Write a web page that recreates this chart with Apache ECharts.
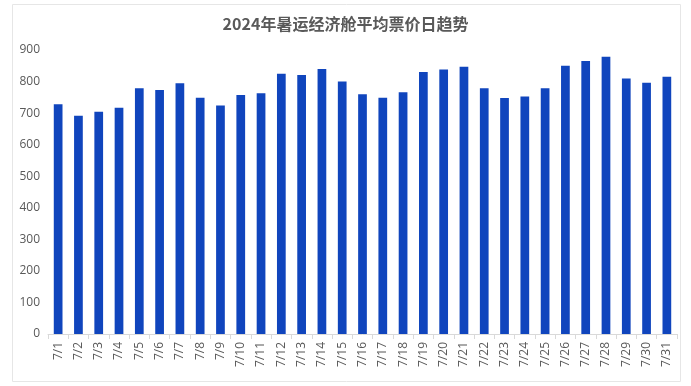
<!DOCTYPE html>
<html><head><meta charset="utf-8">
<script src="https://cdn.jsdelivr.net/npm/echarts@6/dist/echarts.min.js"></script>
<style>html,body{margin:0;padding:0;background:#fff}#c{width:691px;height:386px}</style>
</head><body><div id="c"></div>
<script>
const categories = ['7/1','7/2','7/3','7/4','7/5','7/6','7/7','7/8','7/9','7/10','7/11','7/12','7/13','7/14','7/15','7/16','7/17','7/18','7/19','7/20','7/21','7/22','7/23','7/24','7/25','7/26','7/27','7/28','7/29','7/30','7/31'];
const prices = [728,692,704,717,779,773,795,749,724,757,763,825,821,840,800,760,749,766,830,838,847,779,748,753,779,850,865,879,810,796,815];
const yTicks = [0,100,200,300,400,500,600,700,800,900];
const titleText = '2024年暑运经济舱平均票价日趋势';

const chart = echarts.init(document.getElementById('c'));
chart.setOption({
  animation: false,
  title: {
    text: titleText, left: 'center', top: 11,
    textStyle: {fontFamily: '"Noto Sans CJK SC", sans-serif', fontSize: 16, fontWeight: 'bold', color: '#595959'}
  },
  graphic: [{type: 'rect', shape: {x: 12.5, y: 4.5, width: 668, height: 377}, style: {fill: 'none', stroke: '#e6e6e6', lineWidth: 1}, silent: true}],
  grid: {left: 48, right: 14, top: 50, bottom: 52},
  xAxis: {
    type: 'category', data: categories,
    axisLine: {lineStyle: {color: '#d9d9d9'}},
    axisTick: {show: true, alignWithLabel: false, length: 5, lineStyle: {color: '#d9d9d9'}},
    axisLabel: {rotate: 90, color: '#595959', fontSize: 12, fontFamily: '"Open Sans", sans-serif', margin: 8}
  },
  yAxis: {
    type: 'value', min: yTicks[0], max: yTicks[yTicks.length-1], interval: 100,
    axisLine: {show: false}, axisTick: {show: false}, splitLine: {show: false},
    axisLabel: {color: '#595959', fontSize: 12, fontFamily: '"Open Sans", sans-serif', margin: 8}
  },
  series: [{type: 'bar', data: prices, barWidth: '43%', itemStyle: {color: '#1045BD'}}]
});
</script></body></html>
